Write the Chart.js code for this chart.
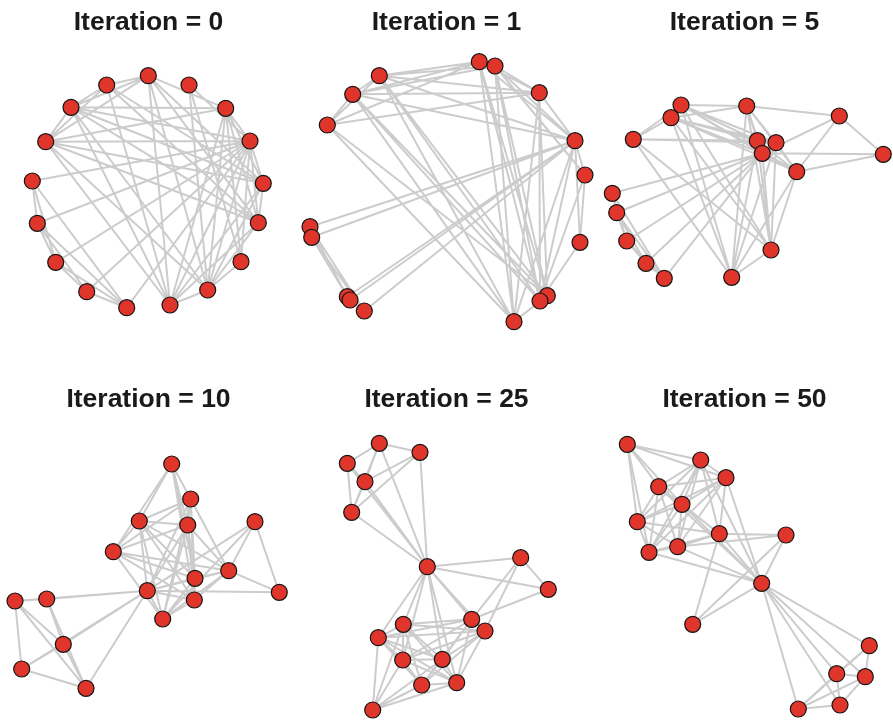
<!DOCTYPE html>
<html>
<head>
<meta charset="utf-8">
<script src="https://cdn.jsdelivr.net/npm/chart.js@4.4.1/dist/chart.umd.min.js"></script>
<style>
body { margin: 0; background: #fff; width: 893px; height: 721px; position: relative; overflow: hidden; }
.panel { position: absolute; width: 297px; height: 360px; }
.panel canvas { position: absolute; left: 0; top: 0; }
.panel h2 { position: absolute; left: 0; right: 0; margin: 0; text-align: center; white-space: nowrap;
  font: bold 26.5px "Liberation Sans", Arial, sans-serif; color: #1a1a1a; line-height: 30px; }
</style>
</head>
<body>
<script>
// titres des 6 étapes du layout
var titles = ['Iteration = 0', 'Iteration = 1', 'Iteration = 5',
              'Iteration = 10', 'Iteration = 25', 'Iteration = 50'];

// sommets : A B C D E F G P I J H Q K L M N O (même ordre dans chaque étape)
var x0  = [106.7, 45.7, 170, 71, 263.3, 148.3, 207.7, 241, 258.3, 225.7, 250, 189, 32.3, 55.7, 37.3, 126.7, 86.7];
var y0  = [85, 141.7, 305, 107.3, 183.3, 75.7, 290, 261.7, 222.7, 108.3, 141, 85, 181, 262.3, 223.3, 307.7, 291.7];
var x1  = [29.3, 81.3, 216, 54.7, 241.3, 249.3, 242, 287, 181.3, 197, 277, 282, 12, 49.3, 13.7, 66.3, 52];
var y1  = [125, 75.7, 321.7, 94.3, 92.7, 295.7, 301, 175, 61.7, 66, 140.7, 242.3, 226.7, 296.7, 237.3, 311, 300];
var x5  = [37.3, 85, 161.3, 75, 180, 135.7, 200.7, 243.3, 175, 150.7, 166.3, 287.3, 16.3, 30.7, 20.7, 68.3, 50];
var y5  = [139.3, 105, 140.7, 117.7, 142.7, 277.3, 171.7, 116, 250, 106, 153.3, 154.3, 193.3, 241, 212.7, 278.3, 263.3];
var x10 = [171.7, 190.7, 187.7, 139.3, 195, 113.3, 228.7, 255, 194.3, 162.7, 147.3, 279.3, 46.7, 63.3, 15, 86, 21.7];
var y10 = [104, 139, 165, 161, 218.3, 191.7, 210.7, 161.7, 240, 259, 230.7, 232.3, 239, 284.3, 241, 328.3, 309];
var x25 = [74.7, 104.7, 158.7, 105.3, 144.3, 123.7, 173.7, 222.7, 80.3, 187, 129.3, 250.3, 122, 67, 81.3, 53.7, 49.3];
var y25 = [350, 300, 322.7, 264.3, 299.3, 325, 259.3, 197.7, 277.7, 271, 206.7, 229.3, 92.3, 121.7, 83.3, 152.3, 103.3];
var x50 = [31.3, 104.7, 130, 62.7, 86, 41.3, 123.3, 190, 53, 81.7, 165.7, 96.7, 273.3, 240.7, 269.3, 202.3, 244];
var y50 = [84.3, 100, 117.7, 126.7, 144.3, 161.7, 173.7, 175, 192.3, 186.7, 223.3, 264.3, 285.7, 313.7, 316.7, 349, 345];

// arêtes (indices des sommets)
var edges = [
  [0,1],[0,3],[0,4],[0,5],[0,8],[0,2],
  [1,2],[1,3],[1,4],[1,5],[1,6],[1,8],[1,9],[1,10],
  [2,3],[2,4],[2,5],[2,6],[2,8],[2,9],[2,10],
  [3,4],[3,5],[3,6],[3,9],[3,10],[3,8],
  [4,5],[4,6],[4,8],[4,9],[4,10],
  [5,6],[5,8],[5,9],
  [6,7],[6,8],[6,9],[6,10],[6,11],
  [7,9],[7,10],[7,11],
  [8,9],[8,10],[9,10],
  [10,11],[10,12],[10,13],[10,14],[10,15],[10,16],
  [12,13],[12,14],[12,15],[13,14],[13,15],[13,16],[14,15],[14,16],[15,16]
];

var layoutsX = [x0, x1, x5, x10, x25, x50];
var layoutsY = [y0, y1, y5, y10, y25, y50];

var colLeft = [0, 298, 596];
var rowTop = [0, 360];
var titleTop = [5.5, 22.5];

for (var i = 0; i < 6; i++) {
    var col = i % 3, row = Math.floor(i / 3);
    var div = document.createElement('div');
    div.className = 'panel';
    div.style.left = colLeft[col] + 'px';
    div.style.top = rowTop[row] + 'px';
    var canvas = document.createElement('canvas');
    canvas.width = 297;
    canvas.height = 360;
    div.appendChild(canvas);
    var h = document.createElement('h2');
    h.textContent = titles[i];
    h.style.top = titleTop[row] + 'px';
    div.appendChild(h);
    document.body.appendChild(div);

    var xs = layoutsX[i], ys = layoutsY[i];
    var nodes = xs.map(function(x, k) { return { x: x, y: ys[k] }; });
    var segs = [];
    edges.forEach(function(e) {
        segs.push({ x: xs[e[0]], y: ys[e[0]] }, { x: xs[e[1]], y: ys[e[1]] }, { x: null, y: null });
    });

    new Chart(canvas.getContext('2d'), {
        type: 'scatter',
        data: {
            datasets: [{
                data: nodes,
                pointRadius: 8,
                pointHoverRadius: 8,
                backgroundColor: '#E0352A',
                borderColor: '#141414',
                borderWidth: 1.2,
                order: 0,
                clip: false
            }, {
                data: segs,
                showLine: true,
                spanGaps: false,
                pointRadius: 0,
                borderColor: '#CCCCCC',
                borderWidth: 2,
                order: 1,
                clip: false
            }]
        },
        options: {
            responsive: false,
            animation: false,
            events: [],
            layout: { padding: 0, autoPadding: false },
            plugins: { legend: { display: false }, tooltip: { enabled: false } },
            scales: {
                x: { type: 'linear', min: 0, max: 297, display: false },
                y: { type: 'linear', min: 0, max: 360, reverse: true, display: false }
            }
        }
    });
}
</script>
</body>
</html>
